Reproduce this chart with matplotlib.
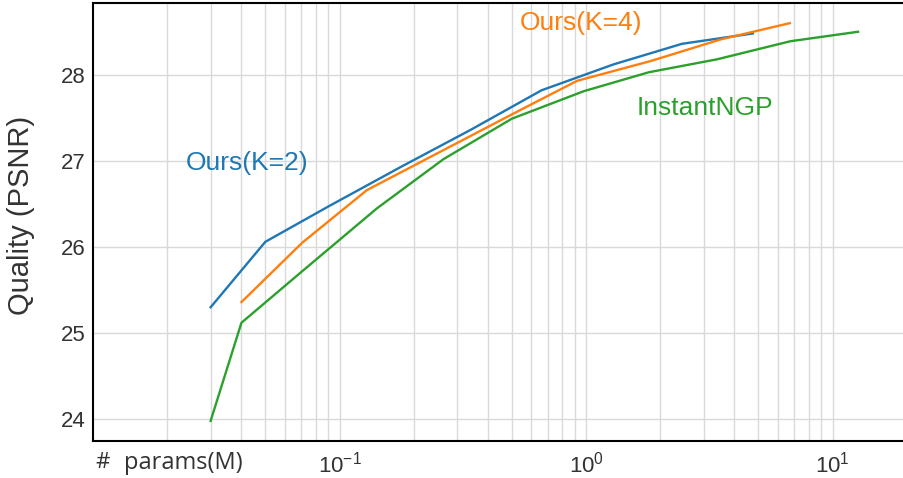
import numpy as np
import matplotlib
matplotlib.use('Agg')
import matplotlib.pyplot as plt

# params (M) vs quality (PSNR)
k2_params = [0.03, 0.05, 0.09, 0.18, 0.34, 0.66, 1.29, 2.45, 4.75]
k2_psnr = [25.30, 26.06, 26.47, 26.94, 27.36, 27.82, 28.12, 28.36, 28.48]

k4_params = [0.04, 0.0706, 0.129, 0.25, 0.50, 0.92, 1.83, 3.51, 6.71]
k4_psnr = [25.36, 26.05, 26.66, 27.09, 27.54, 27.93, 28.16, 28.41, 28.60]

ngp_params = [0.03, 0.04, 0.07, 0.142, 0.264, 0.50, 0.98, 1.8, 3.4, 6.75, 12.7]
ngp_psnr = [23.98, 25.12, 25.71, 26.45, 27.02, 27.49, 27.81, 28.03, 28.18, 28.39, 28.50]

labels = ["Ours(K=2)", "Ours(K=4)", "InstantNGP"]
y_ticks = [24, 25, 26, 27, 28]
x_ticks = [0.1, 1, 10]

plt.rcParams['font.family'] = ['Liberation Sans', 'DejaVu Sans']
plt.rcParams['mathtext.fontset'] = 'custom'
plt.rcParams['mathtext.rm'] = 'Open Sans'
plt.rcParams['mathtext.it'] = 'Open Sans'
plt.rcParams['mathtext.bf'] = 'Open Sans'

fig = plt.figure(figsize=(9.04, 4.78), dpi=100)
ax = fig.add_axes([0.1029, 0.078, 0.9001, 0.915])

ax.plot(k2_params, k2_psnr, '-', color='#1f77b4', linewidth=1.7)
ax.plot(k4_params, k4_psnr, '-', color='#ff7f0e', linewidth=1.7)
ax.plot(ngp_params, ngp_psnr, '-', color='#2ca02c', linewidth=1.7)

ax.set_xscale('log')
ax.set_xlim(0.01, 20)
ax.set_ylim(23.75, 28.83)
ax.set_yticks(y_ticks)
ax.set_xticks(x_ticks)

ax.grid(True, which='major', color='#d9d9d9', linewidth=1.0)
ax.grid(True, which='minor', axis='x', color='#d9d9d9', linewidth=1.0)
ax.set_axisbelow(True)
ax.tick_params(which='both', length=0)
ax.tick_params(axis='y', labelsize=16, labelcolor='#333333', pad=5)
ax.tick_params(axis='x', labelsize=16, labelcolor='#333333', pad=8)

for side in ['left', 'bottom', 'top']:
    ax.spines[side].set_color('black')
    ax.spines[side].set_linewidth(1.5)
ax.spines['right'].set_visible(False)

# annotations next to the curves
ax.text(0.042, 26.98, labels[0], color='#1f77b4', fontsize=19, ha='center', va='center')
ax.text(0.95, 28.6, labels[1], color='#ff7f0e', fontsize=19, ha='center', va='center')
ax.text(3.05, 27.62, labels[2], color='#2ca02c', fontsize=19, ha='center', va='center')

ax.set_ylabel("Quality (PSNR)", fontsize=21, color='#333333')
ax.yaxis.set_label_coords(-0.071, 0.515)
fig.text(0.105, 0.032, "#", fontsize=16, color='#333333', family='Open Sans', ha='left', va='center')
fig.text(0.137, 0.032, "params(M)", fontsize=17, color='#333333', family='Open Sans', ha='left', va='center')

plt.savefig("out.png", dpi=100)
plt.close()
